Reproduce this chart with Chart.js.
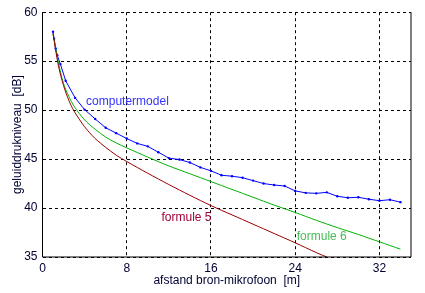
<!DOCTYPE html>
<html>
<head>
<meta charset="utf-8">
<script src="https://cdn.jsdelivr.net/npm/chart.js@4.4.1/dist/chart.umd.min.js"></script>
<style>
  html, body { margin: 0; padding: 0; background: #fff; }
  #wrap { width: 425px; height: 293px; }
</style>
</head>
<body>
<div id="wrap"><canvas id="chart" width="425" height="293"></canvas></div>
<script>
// computer model (points every metre, denser near the source)
const modelDist = [1, 1.1, 1.25, 1.4, 1.7, 2.2, 3.1, 4, 5, 6, 7, 8, 9, 10, 11, 12, 13, 14, 15, 16, 17,
  18, 19, 20, 21, 22, 23, 24, 25, 26, 27, 28, 29, 30, 31, 32, 33, 34];
const modelLevel = [58.0, 57.3, 56.3, 55.6, 54.7, 53.0, 51.25, 50.05, 49.1, 48.2, 47.65, 47.1, 46.6, 46.3,
  45.7, 45.1, 44.95, 44.65, 44.15, 43.8, 43.35, 43.25, 43.1, 42.8, 42.5, 42.35, 42.25, 41.75, 41.55,
  41.5, 41.6, 41.2, 41.05, 41.1, 40.9, 40.75, 40.85, 40.6];

const f5Dist = [1, 1.5, 2, 2.5, 3, 4, 5, 6, 7, 8, 10, 12, 14, 16, 18, 20, 22, 24, 26, 27];
const f5Level = [57.8, 54.6, 52.5, 51.0, 49.9, 48.3, 47.1, 46.2, 45.4, 44.75, 43.55, 42.4, 41.3,
  40.25, 39.3, 38.35, 37.4, 36.45, 35.45, 35.0];

const f6Dist = [1, 1.5, 2, 2.5, 3, 4, 5, 6, 7, 8, 10, 12, 14, 16, 18, 20, 22, 24, 26, 28, 30, 32, 34];
const f6Level = [57.8, 54.9, 52.7, 51.4, 50.4, 49.0, 48.05, 47.25, 46.65, 46.15, 45.2, 44.3, 43.5,
  42.7, 41.9, 41.1, 40.3, 39.55, 38.75, 38.0, 37.3, 36.55, 35.8];

const xTicks = [0, 8, 16, 24, 32];
const yTicks = [35, 40, 45, 50, 55, 60];

const toXY = (xs, ys) => xs.map((x, i) => ({ x: x, y: ys[i] }));

const font = { family: "'Liberation Sans', Arial, sans-serif", size: 12 };
const ink = "#000033";

// frame: solid left, bottom, right; top stays dashed like the grid
const framePlugin = {
  id: "frame",
  afterDraw(chart) {
    const { ctx, chartArea: a } = chart;
    ctx.save();
    ctx.strokeStyle = "#000";
    ctx.lineWidth = 1;
    ctx.setLineDash([]);
    ctx.beginPath();
    ctx.moveTo(a.left, a.top);
    ctx.lineTo(a.left, a.bottom);
    ctx.lineTo(a.right, a.bottom);
    ctx.lineTo(a.right, a.top);
    ctx.stroke();
    ctx.restore();
  }
};

// curve names written inside the plot
const namesPlugin = {
  id: "names",
  afterDatasetsDraw(chart) {
    const { ctx } = chart;
    const sx = chart.scales.x, sy = chart.scales.y;
    const names = [
      ["computermodel", 4.14, 50.85, "#3333ff"],
      ["formule 5", 11.3, 39.0, "#a0003a"],
      ["formule 6", 24.15, 37.1, "#44bb55"]
    ];
    ctx.save();
    ctx.font = "12px " + font.family;
    ctx.textBaseline = "middle";
    ctx.textAlign = "left";
    names.forEach(([t, x, y, c]) => {
      ctx.fillStyle = c;
      ctx.fillText(t, sx.getPixelForValue(x), sy.getPixelForValue(y));
    });
    ctx.restore();
  }
};

new Chart(document.getElementById("chart"), {
  type: "scatter",
  data: {
    datasets: [
      {
        label: "formule 5",
        data: toXY(f5Dist, f5Level),
        showLine: true,
        borderColor: "#990000",
        borderWidth: 1,
        pointRadius: 0,
        tension: 0.3
      },
      {
        label: "formule 6",
        data: toXY(f6Dist, f6Level),
        showLine: true,
        borderColor: "#00b000",
        borderWidth: 1,
        pointRadius: 0,
        tension: 0.3
      },
      {
        label: "computermodel",
        data: toXY(modelDist, modelLevel),
        showLine: true,
        borderColor: "#0000ff",
        backgroundColor: "#0000ff",
        borderWidth: 1,
        pointRadius: 1.2,
        pointBorderWidth: 0,
        tension: 0
      }
    ]
  },
  options: {
    responsive: false,
    animation: false,
    layout: { padding: { top: 6, right: 14, left: 0, bottom: 0 } },
    plugins: { legend: { display: false }, tooltip: { enabled: false } },
    scales: {
      x: {
        type: "linear",
        min: 0,
        max: 35,
        afterBuildTicks: (s) => { s.ticks = xTicks.map((v) => ({ value: v })); },
        afterFit: (s) => { s.height = 36; },
        grid: { color: "#000", lineWidth: 1, drawTicks: false },
        border: { display: false, dash: [3, 3] },
        ticks: { font: font, color: ink, padding: 4, maxRotation: 0 },
        title: {
          display: true,
          text: "afstand bron-mikrofoon  [m]",
          font: font,
          color: ink,
          padding: { top: 0, bottom: 5 }
        }
      },
      y: {
        type: "linear",
        min: 35,
        max: 60,
        afterBuildTicks: (s) => { s.ticks = yTicks.map((v) => ({ value: v })); },
        afterFit: (s) => { s.width = 42.5; },
        grid: { color: "#000", lineWidth: 1, drawTicks: false },
        border: { display: false, dash: [3, 3] },
        ticks: { font: font, color: ink, padding: 5 },
        title: {
          display: true,
          text: "geluiddrukniveau  [dB]",
          font: font,
          color: ink,
          padding: { top: 10, bottom: 0 }
        }
      }
    }
  },
  plugins: [framePlugin, namesPlugin]
});
</script>
</body>
</html>
